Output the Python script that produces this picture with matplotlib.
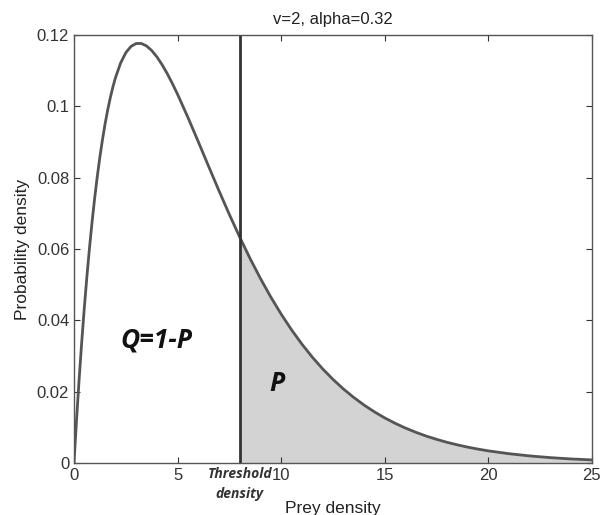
import matplotlib.pyplot as plt
from matplotlib.ticker import FuncFormatter

# prey density values and the probability density
prey = [0, 0.125, 0.25, 0.375, 0.5, 0.625, 0.75, 0.875, 1, 1.125, 1.25, 1.375, 1.5,
        1.625, 1.75, 1.875, 2, 2.25, 2.5, 2.75, 3, 3.25, 3.5, 3.75, 4, 4.25, 4.5,
        4.75, 5, 5.5, 6, 6.5, 7, 7.5,
        8, 8.5, 9, 9.5, 10, 10.5, 11, 11.5, 12, 12.5, 13, 13.5, 14, 14.5, 15, 15.5,
        16, 16.5, 17, 17.5, 18, 18.5, 19, 19.5, 20, 21, 22, 23, 24, 25]
density = [0, 0.01230, 0.02363, 0.03406, 0.04363, 0.05240, 0.06041, 0.06772, 0.07436,
           0.08037, 0.08580, 0.09068, 0.09505, 0.09893, 0.10236, 0.10537, 0.10799,
           0.11215, 0.11503, 0.11680, 0.11762, 0.11763, 0.11694, 0.11566, 0.11388,
           0.11170, 0.10918, 0.10638, 0.10337, 0.09689, 0.09008, 0.08315, 0.07631,
           0.06967, 0.06333, 0.05733, 0.05173, 0.04653, 0.04174, 0.03735, 0.03334,
           0.02970, 0.02641, 0.02345, 0.02078, 0.01839, 0.01625, 0.01434, 0.01264,
           0.01113, 0.00979, 0.00861, 0.00755, 0.00663, 0.00581, 0.00509, 0.00445,
           0.00389, 0.00340, 0.00260, 0.00198, 0.00150, 0.00113, 0.00086]
threshold = 8
xticks = [0, 5, 10, 15, 20, 25]
yticks = [0, 0.02, 0.04, 0.06, 0.08, 0.1, 0.12]

plt.rcParams['font.family'] = ['Liberation Sans', 'DejaVu Sans']

fig = plt.figure(figsize=(6.04, 5.15), dpi=100)
ax = fig.add_axes([0.1225, 0.101, 0.8575, 0.831])

# shaded tail above threshold
tail_x = [x for x in prey if x >= threshold]
tail_y = [y for x, y in zip(prey, density) if x >= threshold]
ax.fill_between(tail_x, 0, tail_y, color='#d3d3d3', linewidth=0)
ax.plot(prey, density, color='#555555', linewidth=2, solid_joinstyle='round')
ax.axvline(threshold, color='#333333', linewidth=2)

ax.set_xlim(0, 25)
ax.set_ylim(0, 0.12)
ax.set_xticks(xticks)
ax.set_yticks(yticks)
ax.yaxis.set_major_formatter(FuncFormatter(lambda v, p: '%g' % round(v, 3)))
ax.tick_params(direction='in', top=True, right=True, labelsize=12,
               colors='#333333', length=4, width=0.8)
for s in ax.spines.values():
    s.set_color('#555555')
    s.set_linewidth(1)

ax.set_title('v=2, alpha=0.32', fontsize=12, color='#222222', pad=8)
ax.set_ylabel('Probability density', fontsize=12.5, color='#222222', labelpad=5)
ax.set_xlabel('Prey density', fontsize=12.5, color='#222222', labelpad=13)

ax.text(3.96, 0.0345, 'Q=1-P', fontsize=19, fontweight='bold', style='italic',
        family='Open Sans', ha='center', va='center', color='#111111')
ax.text(9.8, 0.0224, 'P', fontsize=19, fontweight='bold', style='italic',
        family='Open Sans', ha='center', va='center', color='#111111')
ax.annotate('Threshold\ndensity', xy=(threshold, 0), xycoords=('data', 'axes fraction'),
            xytext=(0, -3), textcoords='offset points', ha='center', va='top',
            fontsize=10, fontweight='bold', style='italic', family='Open Sans',
            color='#333333', linespacing=1.5)

fig.savefig('out.png', dpi=100)
